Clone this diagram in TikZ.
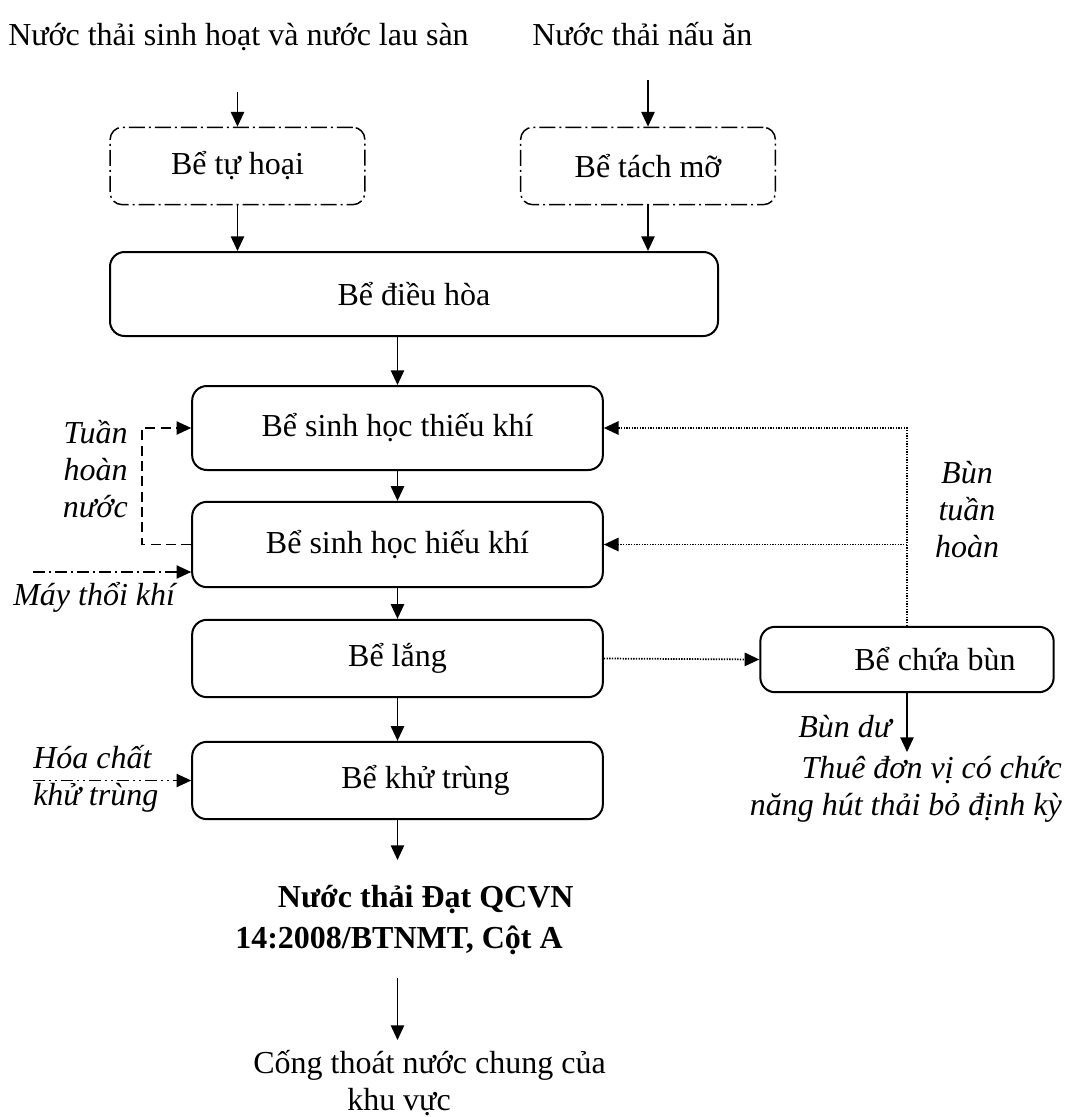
\documentclass[tikz,border=0pt]{standalone}
\usepackage{fontspec}
\setmainfont{Liberation Serif}
\usetikzlibrary{arrows.meta}
\newcommand{\flowfont}{\fontsize{24}{27.75}\selectfont}
\tikzset{
    tank box/.style={
        draw,
        line width=1.5pt,
        rounded corners=11pt,
        minimum width=308pt,
        minimum height=63pt,
        inner sep=0pt,
        font=\flowfont
    },
    pre box/.style={
        draw,
        line width=1.1pt,
        rounded corners=9pt,
        dash pattern=on 12pt off 3pt on 1.5pt off 3pt,
        minimum width=191pt,
        minimum height=58pt,
        inner sep=0pt,
        font=\flowfont
    },
    plain text/.style={inner sep=0pt, font=\flowfont},
    bold text/.style={inner sep=0pt, font=\flowfont\bfseries},
    note text/.style={inner sep=0pt, font=\flowfont\itshape},
    flow arrow/.style={-{Triangle[length=11pt,width=10pt]}, line width=1.1pt},
    sludge arrow/.style={-{Triangle[length=11pt,width=10pt]}, line width=1.3pt, dash pattern=on 1pt off 1pt},
    water loop/.style={-{Triangle[length=11pt,width=10pt]}, line width=1.1pt, dash pattern=on 7.5pt off 4pt},
    air arrow/.style={-{Triangle[length=11pt,width=10pt]}, line width=1.1pt, dash pattern=on 9pt off 3pt on 1.5pt off 3pt},
    chem arrow/.style={-{Triangle[length=11pt,width=10pt]}, line width=1.1pt, dash pattern=on 9pt off 3pt on 1.5pt off 3pt on 1.5pt off 3pt}
}

\begin{document}
\begin{tikzpicture}[x=0.75pt,y=-0.75pt]
    \useasboundingbox (0,0) rectangle (1065,1117);

    % inflows
    \node[plain text, anchor=base west] (src1) at (8,45) {Nước thải sinh hoạt và nước lau sàn};
    \node[plain text, anchor=base west] (src2) at (532,45) {Nước thải nấu ăn};
    \coordinate (in1) at (237.5,92);
    \coordinate (in2) at (648,80);

    % tanks
    \node[pre box] (tuhoai) at (237.5,166) {Bể tự hoại};
    \node[pre box] (tachmo) at (648,166) {Bể tách mỡ};
    \node[tank box, minimum width=456pt] (dieuhoa) at (414,294) {Bể điều hòa};
    \node[tank box] (thieukhi) at (397.5,428) {Bể sinh học thiếu khí};
    \node[tank box, minimum height=64pt] (hieukhi) at (397.5,544.5) {Bể sinh học hiếu khí};
    \node[tank box, minimum height=58pt] (lang) at (397.5,658.5) {Bể lắng};
    \node[tank box, minimum height=58pt] (khutrung) at (397.5,780.5) {\hspace*{42pt}Bể khử trùng};
    \node[tank box, minimum width=220pt, minimum height=49pt] (chuabun) at (907,659.5) {\hspace*{42pt}Bể chứa bùn};

    % outlet
    \coordinate (out1) at (397.5,860);
    \node[bold text, anchor=base west, align=left] (dat) at (235,948) {\hspace*{32pt}Nước thải Đạt QCVN\\[3pt]14:2008/BTNMT, Cột A};
    \coordinate (out2) at (397.5,978);
    \coordinate (out3) at (397.5,1040);
    \node[plain text, anchor=base west, align=left] (cong) at (253,1110) {Cống thoát nước chung của\\\hspace*{70.5pt}khu vực};

    % side inputs
    \coordinate (air) at (33,572);
    \coordinate (chem) at (33,780.5);
    \coordinate (waste) at (907,752);

    \node[note text, anchor=base east, align=right] (tuanhoan) at (128,517) {Tuần\\hoàn\\nước};
    \node[note text, anchor=base west] (maythoi) at (13,605) {Máy thổi khí};
    \node[note text, anchor=base west, align=left] (hoachat) at (33,805) {Hóa chất\\khử trùng};
    \node[note text, anchor=base, align=center] (buntuan) at (967,557) {Bùn\\tuần\\hoàn};
    \node[note text, anchor=base west] (bundu) at (798,737) {Bùn dư};
    \node[note text, anchor=base east, align=right] (thue) at (1062,815) {Thuê đơn vị có chức\\năng hút thải bỏ định kỳ};

    \draw[flow arrow] (in1) -- (tuhoai.north);
    \draw[flow arrow] (in2) -- (tachmo.north);
    \draw[flow arrow] (tuhoai.south) -- (tuhoai.south |- dieuhoa.north);
    \draw[flow arrow] (tachmo.south) -- (tachmo.south |- dieuhoa.north);
    \draw[flow arrow] (dieuhoa.south -| thieukhi.north) -- (thieukhi.north);
    \draw[flow arrow] (thieukhi.south) -- (hieukhi.north);
    \draw[flow arrow] (hieukhi.south) -- (lang.north);
    \draw[flow arrow] (lang.south) -- (khutrung.north);
    \draw[flow arrow] (khutrung.south) -- (out1);
    \draw[flow arrow] (out2) -- (out3);

    \draw[water loop] (hieukhi.west) -- ++(-49,0) |- (thieukhi.west);
    \draw[air arrow] (air) -- (air -| hieukhi.west);
    \draw[chem arrow] (chem) -- (khutrung.west);

    \draw[sludge arrow] (lang.east) -- (chuabun.west);
    \draw[sludge arrow] (chuabun.north) |- (thieukhi.east);
    \draw[sludge arrow] (chuabun.north |- hieukhi.east) -- (hieukhi.east);
    \draw[flow arrow] (chuabun.south) -- (waste);
\end{tikzpicture}
\end{document}
